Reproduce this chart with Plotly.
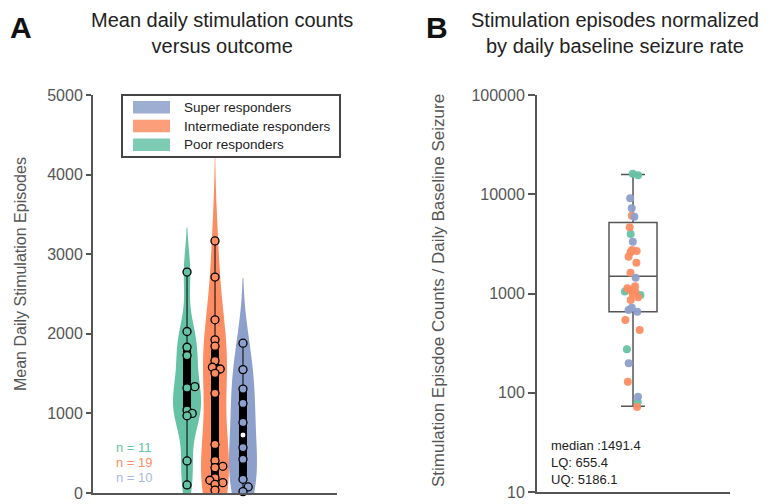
import numpy as np
import plotly.graph_objects as go

# ---------------- data ----------------
GROUPS = ["Poor responders", "Intermediate responders", "Super responders"]
COLORS = {"Poor responders": "#66c2a5", "Intermediate responders": "#fc8d62", "Super responders": "#8da0cb"}

# Panel A: mean daily stimulation episodes per patient
a_poor = [2776, 2029, 1831, 1726, 1336, 1320, 1042, 1000, 970, 403, 101]
a_inter = [3167, 2713, 2176, 1924, 1844, 1663, 1580, 1558, 1504, 1252,
           610, 408, 335, 318, 190, 160, 130, 109, 36]
a_super = [1882, 1550, 1306, 1125, 886, 571, 424, 172, 76, 17]
a_bandwidth = [280, 540, 410]

# Panel B: stimulation episodes normalized by daily baseline seizure rate
b_poor = [15500, 16100, 3980, 1050, 966, 274, 81]
b_inter = [6080, 4640, 2740, 2680, 2600, 2350, 2040, 1620, 1180, 1128, 1080,
           1043, 990, 916, 860, 541, 429, 129, 72]
b_super = [9100, 7210, 5940, 3330, 1443, 720, 682, 655, 198, 91]
b_median, b_lq, b_uq = 1491.4, 655.4, 5186.1
b_lowfence, b_upfence = 73, 15800

a_ticks = [0, 1000, 2000, 3000, 4000, 5000]
b_ticks = [10, 100, 1000, 10000, 100000]

legend_order = ["Super responders", "Intermediate responders", "Poor responders"]

# ---------------- figure ----------------
W, H = 775, 504
def px(x): return x / W
def py(y): return 1 - y / H

FONT = "Liberation Sans, Arial, Helvetica, sans-serif"
AX = "#555555"

A_X0, A_X1, A_Y0, A_Y1 = 93, 337, 95, 493
A_XRANGE = [-3.36, 5.36]
A_YRANGE = [0, 5000]


def swarm_offsets(vals, min_dist_px=5.5, step_px=2.6):
    """Small deterministic beeswarm offsets (in x data units) for panel A points."""
    unit_px = (A_X1 - A_X0) / (A_XRANGE[1] - A_XRANGE[0])
    ypx = np.asarray(vals, float) / (A_YRANGE[1] - A_YRANGE[0]) * (A_Y1 - A_Y0)
    order = np.argsort(ypx)
    placed = []
    offs = np.zeros(len(vals))
    cands = [0, 1, -1, 2, -2, 3, -3]
    for idx in order:
        for c in cands:
            xo = c * step_px
            if all((xo - px_) ** 2 + (ypx[idx] - py_) ** 2 >= min_dist_px ** 2 for px_, py_ in placed):
                break
        placed.append((xo, ypx[idx]))
        offs[idx] = xo / unit_px
    return offs


fig = go.Figure()

a_data = [a_poor, a_inter, a_super]
for i, (g, vals, bw) in enumerate(zip(GROUPS, a_data, a_bandwidth)):
    fig.add_trace(go.Violin(
        y=vals, x0=i, name=g, width=1.0, bandwidth=bw, spanmode="soft",
        fillcolor=COLORS[g], opacity=1, line=dict(width=0, color=COLORS[g]),
        points=False,
        box=dict(visible=True, width=0.25, fillcolor="black", line=dict(color="black", width=1)),
        meanline=dict(visible=False), showlegend=False,
        xaxis="x", yaxis="y",
    ))
# median dots (drawn below the individual points)
fig.add_trace(go.Scatter(
    x=list(range(len(GROUPS))), y=[float(np.median(v)) for v in a_data],
    mode="markers", marker=dict(size=6, color="white", line=dict(color="black", width=1)),
    showlegend=False, xaxis="x", yaxis="y", hoverinfo="skip",
))
for i, (g, vals) in enumerate(zip(GROUPS, a_data)):
    fig.add_trace(go.Scatter(
        x=i + swarm_offsets(vals), y=vals, mode="markers", name=g,
        marker=dict(size=8, color=COLORS[g], line=dict(color="black", width=1.3)),
        showlegend=False, xaxis="x", yaxis="y", cliponaxis=False,
    ))

# Panel B summary box (precomputed stats)
fig.add_trace(go.Box(
    x=[0], q1=[b_lq], median=[b_median], q3=[b_uq],
    lowerfence=[b_lowfence], upperfence=[b_upfence],
    width=1.0, whiskerwidth=0.5, fillcolor="rgba(0,0,0,0)",
    line=dict(color="#555555", width=1.5), boxpoints=False,
    showlegend=False, xaxis="x2", yaxis="y2",
))
for g, vals in zip(GROUPS, [b_poor, b_inter, b_super]):
    fig.add_trace(go.Box(
        y=vals, x0=0, name=g, width=1.0, boxpoints="all", jitter=0.4, pointpos=0,
        fillcolor="rgba(0,0,0,0)", line=dict(width=0, color="rgba(0,0,0,0)"),
        marker=dict(size=8, color=COLORS[g], opacity=0.95),
        showlegend=False, xaxis="x2", yaxis="y2", hoveron="points",
    ))

axis_common = dict(showgrid=False, zeroline=False, showline=True, linecolor=AX, linewidth=2,
                   automargin=False,
                   tickfont=dict(family=FONT, size=16, color=AX), tickcolor=AX, tickwidth=2)
xaxis_common = dict(showticklabels=False, ticks="", showgrid=False, zeroline=False, showline=True,
                    linecolor=AX, linewidth=2, automargin=False)

fig.update_layout(
    width=W, height=H, margin=dict(l=0, r=0, t=0, b=0, autoexpand=False),
    paper_bgcolor="white", plot_bgcolor="white",
    boxmode="overlay", violinmode="overlay", showlegend=False,
    font=dict(family=FONT),
    xaxis=dict(domain=[px(A_X0), px(A_X1)], range=A_XRANGE, anchor="y", **xaxis_common),
    yaxis=dict(domain=[py(A_Y1), py(A_Y0)], range=A_YRANGE, tickvals=a_ticks,
               ticks="outside", ticklen=5, anchor="x", **axis_common),
    xaxis2=dict(domain=[px(537), px(730)], range=[-2.0, 2.02], anchor="y2", **xaxis_common),
    yaxis2=dict(domain=[py(492), py(95)], type="log", range=[1, 5], tickvals=b_ticks,
                ticktext=[str(t) for t in b_ticks],
                ticks="outside", ticklen=7, anchor="x2", **axis_common),
)

ann = []
def add_text(x, y, text, size, color="#222222", xanchor="center", yanchor="middle", angle=0, bold=False):
    ann.append(dict(x=px(x), y=py(y), xref="paper", yref="paper", text=("<b>%s</b>" % text) if bold else text,
                    showarrow=False, xanchor=xanchor, yanchor=yanchor, textangle=angle,
                    font=dict(family=FONT, size=size, color=color)))

add_text(8, 27, "A", 30, "#111111", xanchor="left", bold=True)
add_text(424, 27, "B", 30, "#111111", xanchor="left", bold=True)
ann.append(dict(x=px(222), y=py(7), xref="paper", yref="paper", showarrow=False,
                text="Mean daily stimulation counts<br>versus outcome", xanchor="center", yanchor="top",
                font=dict(family=FONT, size=20, color="#222222")))
ann.append(dict(x=px(615), y=py(7), xref="paper", yref="paper", showarrow=False,
                text="Stimulation episodes normalized<br>by daily baseline seizure rate", xanchor="center", yanchor="top",
                font=dict(family=FONT, size=20, color="#222222")))
add_text(20, 274, "Mean Daily Stimulation Episodes", 16, AX, angle=-90)
add_text(438, 291, "Stimulation Episdoe Counts / Daily Baseline Seizure", 17, AX, angle=-90)

# n labels
n_colors = {"Poor responders": "#66c2a5", "Intermediate responders": "#fc8d62", "Super responders": "#a9b7de"}
for k, (g, vals) in enumerate(zip(GROUPS, a_data)):
    add_text(114, 447 + 15 * k, "n = %d" % len(vals), 13, n_colors[g], xanchor="left")

# stats text
ann.append(dict(x=px(549), y=py(436), xref="paper", yref="paper", showarrow=False, align="left",
                text="median :%.1f<br>LQ: %.1f<br>UQ: %.1f" % (b_median, b_lq, b_uq),
                xanchor="left", yanchor="top", font=dict(family=FONT, size=13, color="#222222")))

# legend (panel A)
shapes = [dict(type="rect", xref="paper", yref="paper", x0=px(122), x1=px(340), y0=py(157), y1=py(95),
               line=dict(color="#444444", width=2), fillcolor="white", layer="above")]
for k, g in enumerate(legend_order):
    top = 101 + 18.7 * k
    shapes.append(dict(type="rect", xref="paper", yref="paper", x0=px(133), x1=px(170),
                       y0=py(top + 12.5), y1=py(top), line=dict(width=0),
                       fillcolor=COLORS[g], opacity=0.85, layer="above"))
    add_text(182, top + 6.5, g, 13.5, "#222222", xanchor="left")

fig.update_layout(annotations=ann, shapes=shapes)
fig.write_html("out.html", config={"displayModeBar": False},
               post_script="document.body.style.margin='0';document.body.style.overflow='hidden';")
